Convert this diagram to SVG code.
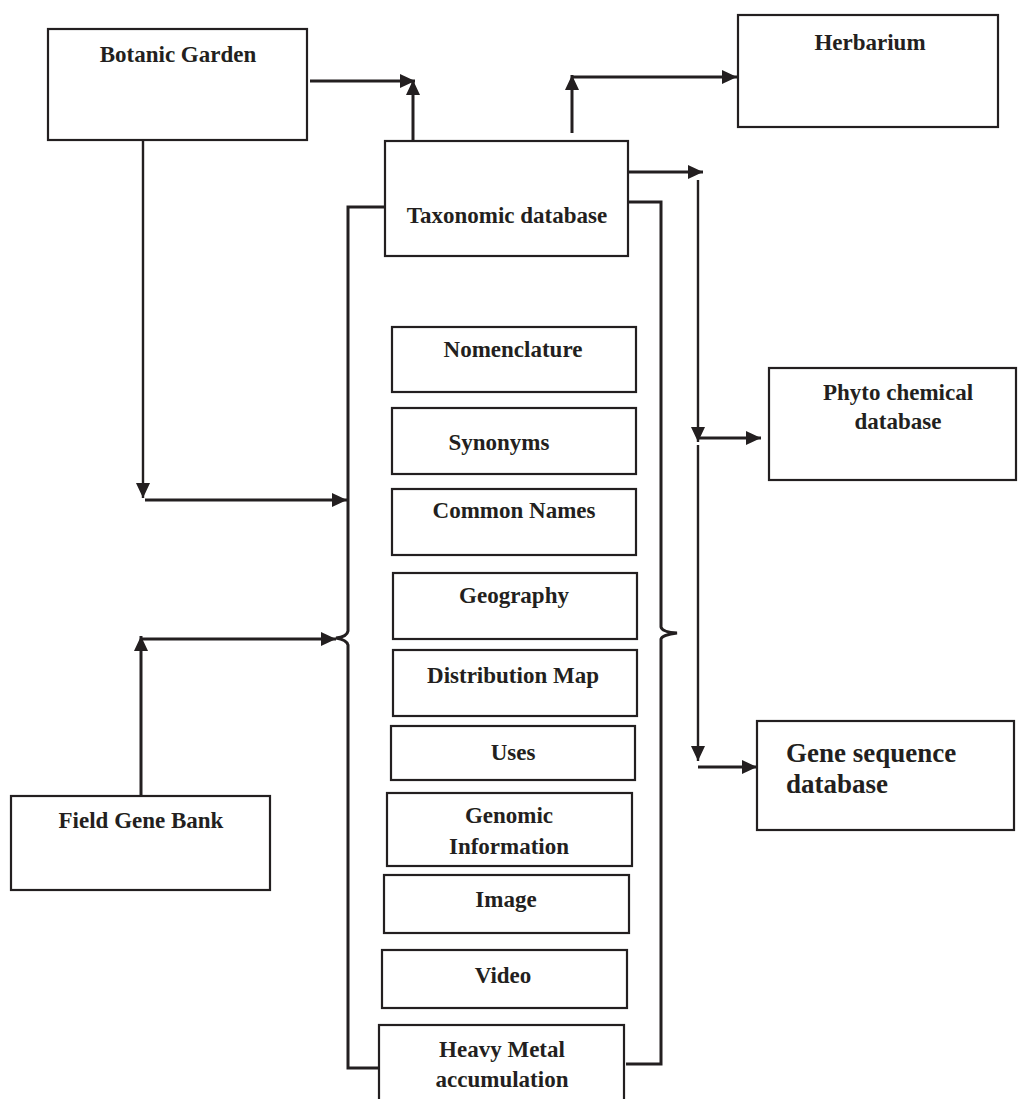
<svg xmlns="http://www.w3.org/2000/svg" width="1019" height="1099" viewBox="0 0 1019 1099">
<style>
.box{fill:#fff;stroke:#231f20;stroke-width:2.2}
.t{font-family:"Liberation Serif","Times New Roman",serif;font-weight:bold;font-size:23px;fill:#231f20;text-anchor:middle}
.big{font-size:27px;text-anchor:start}
.c{fill:none;stroke:#231f20;stroke-width:3}
.thin{stroke-width:2.4}
</style>
<defs>
<marker id="ah" markerUnits="userSpaceOnUse" markerWidth="18" markerHeight="16" refX="15" refY="7" orient="auto">
<path d="M0,0 L15,7 L0,14 Z" fill="#231f20"/>
</marker>
</defs>
<rect width="1019" height="1099" fill="#fff"/>
<g id="connectors">
<line class="c" x1="310" y1="81" x2="415" y2="81" marker-end="url(#ah)"/>
<line class="c" x1="413" y1="141" x2="413" y2="80" marker-end="url(#ah)"/>
<line class="c" x1="572" y1="133" x2="572" y2="75" marker-end="url(#ah)"/>
<line class="c" x1="571" y1="77" x2="737" y2="77" marker-end="url(#ah)"/>
<line class="c" x1="628" y1="172" x2="703" y2="172" marker-end="url(#ah)"/>
<line class="c thin" x1="698" y1="180" x2="698" y2="442" marker-end="url(#ah)"/>
<line class="c" x1="698" y1="438" x2="761" y2="438" marker-end="url(#ah)"/>
<line class="c thin" x1="698" y1="445" x2="698" y2="761" marker-end="url(#ah)"/>
<line class="c" x1="698" y1="767" x2="757" y2="767" marker-end="url(#ah)"/>
<line class="c thin" x1="143" y1="140" x2="143" y2="498" marker-end="url(#ah)"/>
<line class="c" x1="145" y1="500" x2="347" y2="500" marker-end="url(#ah)"/>
<line class="c" x1="141" y1="796" x2="141" y2="636" marker-end="url(#ah)"/>
<line class="c" x1="140" y1="639" x2="336" y2="639" marker-end="url(#ah)"/>
<path class="c" d="M386,207 H348 V631 Q347,637 336,638 Q347,640 348,645 V1068 H380"/>
<path class="c" d="M628,202 H661 V627 Q662,632 677,633 Q662,635 661,639 V1064 H626"/>
</g>
<g id="botanic-garden">
<rect class="box" x="48" y="29" width="259" height="111"/>
<text class="t" x="178" y="62">Botanic Garden</text>
</g>
<g id="taxonomic-database">
<rect class="box" x="385" y="141" width="243" height="115"/>
<text class="t" x="507" y="223">Taxonomic database</text>
</g>
<g id="herbarium">
<rect class="box" x="738" y="15" width="260" height="112"/>
<text class="t" x="870" y="50">Herbarium</text>
</g>
<g id="phyto-chemical-database">
<rect class="box" x="769" y="368" width="247" height="112"/>
<text class="t" x="898" y="400">Phyto chemical</text>
<text class="t" x="898" y="429">database</text>
</g>
<g id="gene-sequence-database">
<rect class="box" x="757" y="721" width="257" height="109"/>
<text class="t big" x="786" y="762">Gene sequence</text>
<text class="t big" x="786" y="793">database</text>
</g>
<g id="field-gene-bank">
<rect class="box" x="11" y="796" width="259" height="94"/>
<text class="t" x="141" y="828">Field Gene Bank</text>
</g>
<g id="nomenclature">
<rect class="box" x="392" y="327" width="244" height="65"/>
<text class="t" x="513" y="357">Nomenclature</text>
</g>
<g id="synonyms">
<rect class="box" x="392" y="408" width="244" height="66"/>
<text class="t" x="499" y="450">Synonyms</text>
</g>
<g id="common-names">
<rect class="box" x="392" y="489" width="244" height="66"/>
<text class="t" x="514" y="518">Common Names</text>
</g>
<g id="geography">
<rect class="box" x="393" y="573" width="244" height="66"/>
<text class="t" x="514" y="603">Geography</text>
</g>
<g id="distribution-map">
<rect class="box" x="393" y="650" width="244" height="66"/>
<text class="t" x="513" y="683">Distribution Map</text>
</g>
<g id="uses">
<rect class="box" x="391" y="726" width="244" height="54"/>
<text class="t" x="513" y="760">Uses</text>
</g>
<g id="genomic-information">
<rect class="box" x="387" y="793" width="245" height="73"/>
<text class="t" x="509" y="823">Genomic</text>
<text class="t" x="509" y="854">Information</text>
</g>
<g id="image">
<rect class="box" x="384" y="875" width="245" height="58"/>
<text class="t" x="506" y="907">Image</text>
</g>
<g id="video">
<rect class="box" x="382" y="950" width="245" height="58"/>
<text class="t" x="503" y="983">Video</text>
</g>
<g id="heavy-metal-accumulation">
<rect class="box" x="379" y="1025" width="245" height="84"/>
<text class="t" x="502" y="1057">Heavy Metal</text>
<text class="t" x="502" y="1087">accumulation</text>
</g>
</svg>
